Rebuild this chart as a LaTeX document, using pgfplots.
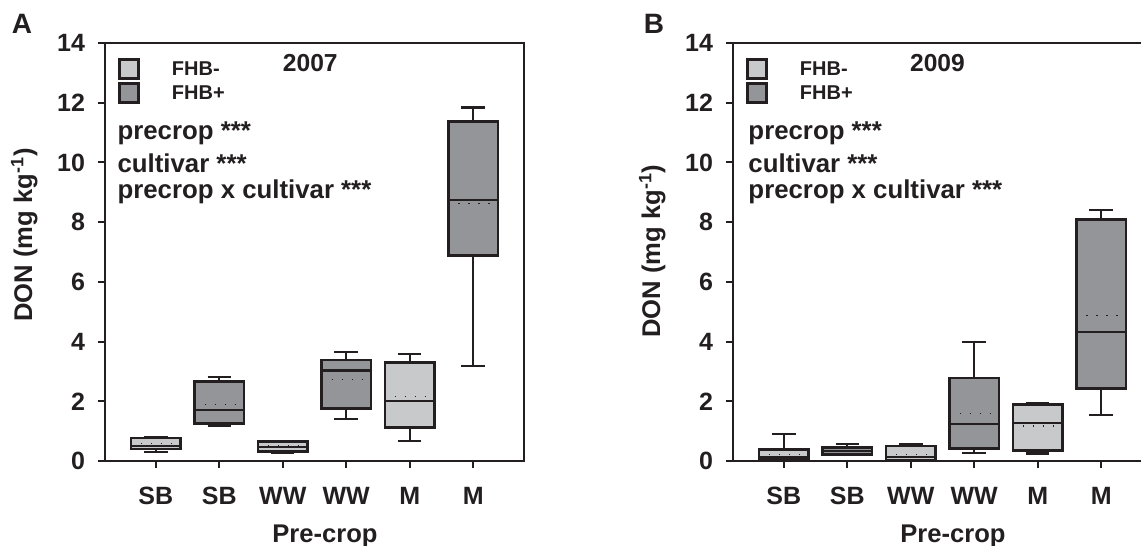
\documentclass[border=0pt]{standalone}
\usepackage{pgfplots}
\pgfplotsset{compat=1.18}
\usepgfplotslibrary{statistics}
\usepackage{fontspec}
\setmainfont{Liberation Sans}

\definecolor{fhbminus}{HTML}{C8C9CB}
\definecolor{fhbplus}{HTML}{939598}
\definecolor{ink}{HTML}{231F20}

\tikzset{
  note/.style={anchor=base west, inner sep=0pt, font=\bfseries\fontsize{12.9}{14}\selectfont, text=ink},
  yearlabel/.style={anchor=base, inner sep=0pt, font=\bfseries\fontsize{12.3}{14}\selectfont, text=ink},
  panel/.style={anchor=base, inner sep=0pt, font=\bfseries\fontsize{14}{16}\selectfont, text=ink},
}

\pgfplotsset{
  donaxis/.style={
    width=209.5pt, height=209pt, scale only axis,
    xmin=-0.8, xmax=5.8, ymin=0, ymax=14,
    xtick={0,...,5}, xticklabels={SB,SB,WW,WW,M,M},
    ytick={0,2,...,14},
    tick align=outside, xtick pos=bottom, ytick pos=left,
    major tick length=3.5pt,
    axis line style={line width=1pt, draw=ink},
    every tick/.style={line width=1pt, draw=ink},
    /pgf/number format/assume math mode=true,
    every tick label/.append style={font=\bfseries\fontsize{12.5}{14}\selectfont, text=ink},
    xticklabel style={anchor=base, inner sep=0pt, yshift=-18pt},
    yticklabel style={xshift=-3pt},
    xlabel={Pre-crop},
    ylabel={DON (mg kg\textsuperscript{-1})},
    label style={font=\bfseries\fontsize{12.8}{14}\selectfont, text=ink},
    xlabel style={at={(axis description cs:0.525,-0.196)}, anchor=base},
    legend image code/.code={\draw[#1, line width=1.5pt] (0pt,-4.75pt) rectangle (9.5pt,4.75pt);},
    legend style={at={(axis description cs:0.031,0.964)}, anchor=north west,
      draw=none, fill=none, inner sep=0pt, outer sep=0pt,
      row sep=1pt, column sep=16pt,
      font=\bfseries\fontsize{10}{11}\selectfont, text=ink,
      nodes={inner sep=0pt, text height=8.8pt, text depth=2.2pt}},
    legend cell align=left,
    boxplot/draw direction=y,
    boxplot/box extend=0.78,
    boxplot/whisker extend=0.37,
    boxplot/every whisker/.style={line width=1.1pt},
    boxplot/every median/.style={line width=1.1pt},
  },
  dbox/.style={draw=ink, line width=1.4pt, solid},
  meanline/.style={ink, line width=0.6pt, dash pattern=on 0.6pt off 4.4pt, forget plot},
}

\begin{document}
\begin{tikzpicture}
\path[use as bounding box] (0pt,0pt) rectangle (570.5pt,-273pt);
\clip (0pt,0pt) rectangle (570.5pt,-273pt);

\node[panel] at (11pt,-16.5pt) {A};
\node[panel] at (327pt,-16.5pt) {B};

% ---- 2007 ----
\begin{axis}[donaxis, at={(52.5pt,-230.5pt)}, anchor=south west,
  ylabel style={at={(axis description cs:-0.174,0.541)}, anchor=base}]
\addlegendimage{fill=fhbminus, draw=ink}
\addlegendimage{fill=fhbplus, draw=ink}
\legend{FHB-,FHB+}

\addplot[dbox, fill=fhbminus, boxplot prepared={draw position=0,
  lower whisker=0.29, lower quartile=0.40, median=0.49, upper quartile=0.77, upper whisker=0.80}] coordinates {};
\addplot[dbox, fill=fhbplus, boxplot prepared={draw position=1,
  lower whisker=1.18, lower quartile=1.26, median=1.72, upper quartile=2.66, upper whisker=2.82}] coordinates {};
\addplot[dbox, fill=fhbminus, boxplot prepared={draw position=2,
  lower whisker=0.27, lower quartile=0.32, median=0.46, upper quartile=0.64, upper whisker=0.67}] coordinates {};
\addplot[dbox, fill=fhbplus, boxplot prepared={draw position=3,
  lower whisker=1.40, lower quartile=1.75, median=3.03, upper quartile=3.38, upper whisker=3.65}] coordinates {};
\addplot[dbox, fill=fhbminus, boxplot prepared={draw position=4,
  lower whisker=0.67, lower quartile=1.11, median=2.01, upper quartile=3.29, upper whisker=3.58}] coordinates {};
\addplot[dbox, fill=fhbplus, boxplot prepared={draw position=5,
  lower whisker=3.19, lower quartile=6.88, median=8.75, upper quartile=11.38, upper whisker=11.84}] coordinates {};

% means
\addplot[meanline] coordinates {(-0.232,0.59) (0.265,0.59)};
\addplot[meanline] coordinates {(0.768,1.90) (1.265,1.90)};
\addplot[meanline] coordinates {(1.768,0.51) (2.265,0.51)};
\addplot[meanline] coordinates {(2.768,2.72) (3.265,2.72)};
\addplot[meanline] coordinates {(3.768,2.16) (4.265,2.16)};
\addplot[meanline] coordinates {(4.768,8.63) (5.265,8.63)};

\node[yearlabel] at (axis description cs:0.49,0.933) {2007};
\node[note] at (axis description cs:0.029,0.768) {precrop ***};
\node[note] at (axis description cs:0.029,0.691) {cultivar ***};
\node[note] at (axis description cs:0.029,0.627) {precrop x cultivar ***};
\end{axis}

% ---- 2009 ----
\begin{axis}[donaxis, at={(366.5pt,-230.5pt)}, anchor=south west,
  ylabel style={at={(axis description cs:-0.174,0.502)}, anchor=base}]
\addlegendimage{fill=fhbminus, draw=ink}
\addlegendimage{fill=fhbplus, draw=ink}
\legend{FHB-,FHB+}

\addplot[dbox, fill=fhbminus, boxplot prepared={draw position=0,
  lower whisker=0.02, lower quartile=0.06, median=0.13, upper quartile=0.39, upper whisker=0.90}] coordinates {};
\addplot[dbox, fill=fhbplus, boxplot prepared={draw position=1,
  lower whisker=0.20, lower quartile=0.23, median=0.34, upper quartile=0.46, upper whisker=0.57}] coordinates {};
\addplot[dbox, fill=fhbminus, boxplot prepared={draw position=2,
  lower whisker=0.01, lower quartile=0.03, median=0.13, upper quartile=0.50, upper whisker=0.55}] coordinates {};
\addplot[dbox, fill=fhbplus, boxplot prepared={draw position=3,
  lower whisker=0.27, lower quartile=0.41, median=1.25, upper quartile=2.78, upper whisker=3.99}] coordinates {};
\addplot[dbox, fill=fhbminus, boxplot prepared={draw position=4,
  lower whisker=0.25, lower quartile=0.34, median=1.28, upper quartile=1.89, upper whisker=1.93}] coordinates {};
\addplot[dbox, fill=fhbplus, boxplot prepared={draw position=5,
  lower whisker=1.54, lower quartile=2.43, median=4.32, upper quartile=8.09, upper whisker=8.41}] coordinates {};

% means
\addplot[meanline] coordinates {(-0.232,0.22) (0.265,0.22)};
\addplot[meanline] coordinates {(0.768,0.36) (1.265,0.36)};
\addplot[meanline] coordinates {(1.768,0.22) (2.265,0.22)};
\addplot[meanline] coordinates {(2.768,1.60) (3.265,1.60)};
\addplot[meanline] coordinates {(3.768,1.17) (4.265,1.17)};
\addplot[meanline] coordinates {(4.768,4.87) (5.265,4.87)};

\node[yearlabel] at (axis description cs:0.488,0.933) {2009};
\node[note] at (axis description cs:0.036,0.768) {precrop ***};
\node[note] at (axis description cs:0.036,0.691) {cultivar ***};
\node[note] at (axis description cs:0.036,0.627) {precrop x cultivar ***};
\end{axis}
\end{tikzpicture}
\end{document}
